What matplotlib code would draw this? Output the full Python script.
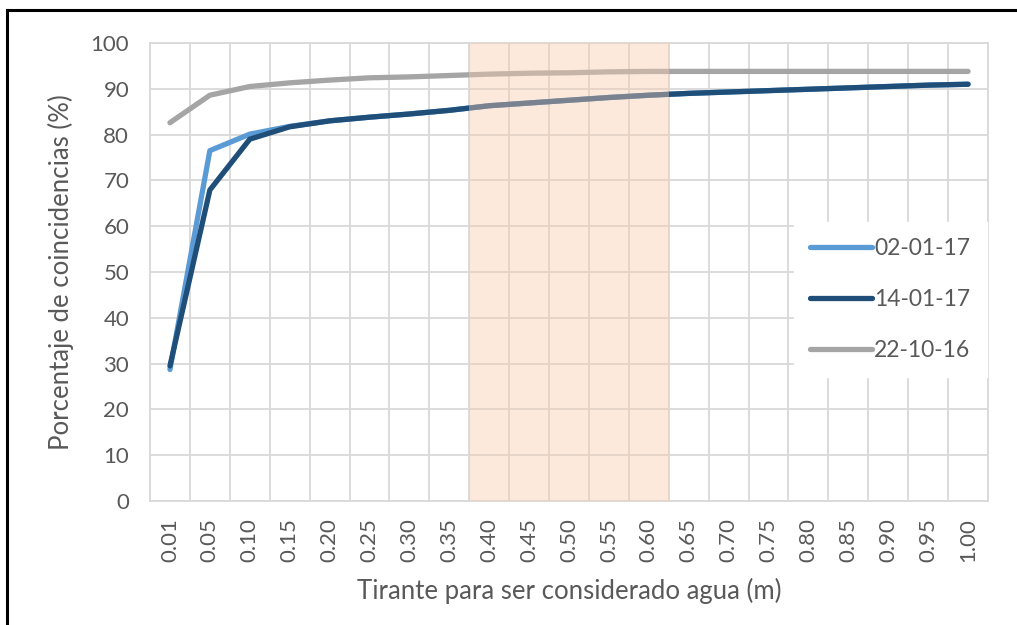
import numpy as np
import matplotlib.pyplot as plt
from matplotlib.lines import Line2D

plt.rcParams['font.family'] = ['Lato', 'DejaVu Sans']

tirante = ['0.01', '0.05', '0.10', '0.15', '0.20', '0.25', '0.30', '0.35', '0.40', '0.45', '0.50',
           '0.55', '0.60', '0.65', '0.70', '0.75', '0.80', '0.85', '0.90', '0.95', '1.00']
s_020117 = [28.7, 76.5, 80.1, 81.8, 83.0, 83.8, 84.5, 85.3, 86.3, 86.9, 87.5,
            88.1, 88.6, 89.0, 89.3, 89.6, 89.9, 90.2, 90.5, 90.8, 91.0]
s_140117 = [29.5, 67.9, 79.0, 81.7, 83.0, 83.8, 84.5, 85.3, 86.3, 86.9, 87.5,
            88.1, 88.6, 89.0, 89.3, 89.6, 89.9, 90.2, 90.5, 90.8, 91.0]
s_221016 = [82.6, 88.6, 90.5, 91.3, 91.9, 92.4, 92.6, 92.9, 93.2, 93.4, 93.5,
            93.7, 93.8, 93.8, 93.8, 93.8, 93.8, 93.8, 93.8, 93.8, 93.8]
series = [('02-01-17', s_020117, '#5B9BD5'),
          ('14-01-17', s_140117, '#1F4E79'),
          ('22-10-16', s_221016, '#A5A5A5')]
# zona sombreada: entre 0.35/0.40 y 0.60/0.65
zona = ('0.35', '0.60')

txt = '#595959'
grid = '#D9D9D9'

fig = plt.figure(figsize=(10.17, 6.25), dpi=100)
ax = fig.add_axes([150/1017, 1 - 501/625, 838/1017, 458/625])

x = np.arange(len(tirante))
for name, vals, col in series:
    ax.plot(x, vals, color=col, lw=3.8, solid_capstyle='round', solid_joinstyle='round',
            label=name, zorder=3)

i0 = tirante.index(zona[0]) + 0.5
i1 = tirante.index(zona[1]) + 0.5
ax.axvspan(i0, i1, color='#F8CBAD', alpha=0.42, lw=0, zorder=4)

ax.set_xlim(-0.5, len(tirante) - 0.5)
ax.set_ylim(0, 100)
ax.set_yticks(np.arange(0, 101, 10))
ax.set_xticks(x)
ax.set_xticklabels(tirante, rotation=90)
ax.set_xticks(np.arange(-0.5, len(tirante)), minor=True)
ax.grid(True, which='major', axis='y', color=grid, lw=1.3, zorder=0)
ax.grid(True, which='minor', axis='x', color=grid, lw=1.3, zorder=0)
ax.tick_params(axis='both', which='both', length=0, colors=txt, labelsize=16)
ax.tick_params(axis='y', pad=15)
ax.tick_params(axis='x', pad=12)
for s in ax.spines.values():
    s.set_color(grid)
    s.set_linewidth(1.3)

ax.set_xlabel('Tirante para ser considerado agua (m)', color=txt, fontsize=18.5, labelpad=12)
ax.set_ylabel('Porcentaje de coincidencias (%)', color=txt, fontsize=18.5, labelpad=12)

handles = [Line2D([], [], color=c, lw=3.8, solid_capstyle='round') for _, _, c in series]
leg = ax.legend(handles, [n for n, _, _ in series], loc='center left',
                bbox_to_anchor=(0.755, 0.44), frameon=True, fancybox=False,
                edgecolor='white', framealpha=1, fontsize=16.5, handlelength=2.7,
                handletextpad=0.1, labelspacing=1.3, borderpad=0.7, labelcolor=txt)
leg.set_zorder(5)

# marco de la captura
fig.add_artist(Line2D([7/1017, 1], [1 - 10/625, 1 - 10/625], color='black', lw=2.2))
fig.add_artist(Line2D([7/1017, 7/1017], [0, 1 - 10/625], color='black', lw=2.2))

fig.savefig('out.png', dpi=100)
